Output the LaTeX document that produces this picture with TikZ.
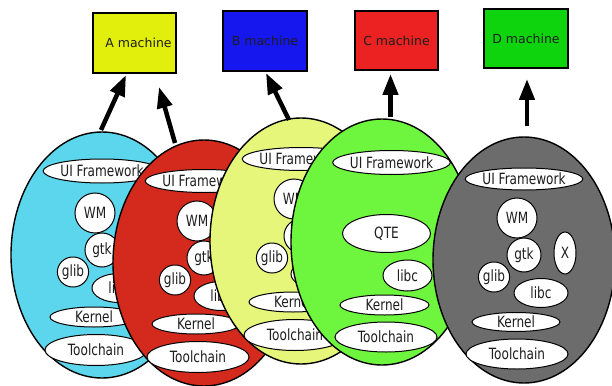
\documentclass[tikz,border=0pt]{standalone}
\usepackage{fontspec}
\setmainfont{DejaVu Sans}
\newfontfamily\condfont[FakeStretch=0.78]{DejaVu Sans}
\usetikzlibrary{arrows.meta,shapes.geometric}
\definecolor{cyanfill}{RGB}{91,214,236}
\definecolor{redfill}{RGB}{212,42,30}
\definecolor{yellowfill}{RGB}{229,246,122}
\definecolor{greenfill}{RGB}{110,245,62}
\definecolor{grayfill}{RGB}{108,108,108}
\definecolor{boxA}{RGB}{226,238,12}
\definecolor{boxB}{RGB}{22,22,238}
\definecolor{boxC}{RGB}{236,34,34}
\definecolor{boxD}{RGB}{14,212,14}
\definecolor{inktext}{RGB}{30,30,30}
\tikzset{
  bigell/.style={ellipse, draw=black, line width=1.4pt, minimum width=182pt, minimum height=246pt, inner sep=0pt},
  item/.style={ellipse, draw=black, fill=white, line width=1pt, inner sep=0pt, text=inktext, font=\condfont\fontsize{15.5}{15.5}\selectfont},
  sz/.style 2 args={minimum width=#1, minimum height=#2},
  machbox/.style={rectangle, draw=black, line width=1.1pt, minimum width=83pt, minimum height=60pt, inner sep=0pt, text=inktext, font=\fontsize{12.5}{12.5}\selectfont},
  arr/.style={line width=4.5pt, -{Triangle[length=21pt,width=15pt]}}
}
\begin{document}
\begin{tikzpicture}[x=1pt,y=-1pt]
\useasboundingbox (0,0) rectangle (612,385);
% machines
\node[machbox, fill=boxA] (Abox) at (134.5,43) {\hspace*{8pt}A machine};
\node[machbox, fill=boxB, minimum width=84pt] (Bbox) at (265,41) {B machine};
\node[machbox, fill=boxC, minimum height=59pt] (Cbox) at (396.5,40.5) {C machine};
\node[machbox, fill=boxD, minimum width=84pt, minimum height=59pt] (Dbox) at (526,38.5) {D machine};
% cyan
\node[bigell, fill=cyanfill] (cE) at (102,255) {};
\node[item, sz={114pt}{24pt}] (cUI) at (102,171) {UI Framework};
\node[item, sz={40pt}{40pt}] (cWM) at (95,213) {WM};
\node[item, sz={34pt}{34pt}] (cgtk) at (102,250) {gtk};
\node[item, sz={30pt}{30pt}] (cglib) at (73,272) {glib};
\node[item, sz={54pt}{29pt}] (clibc) at (119,288) {libc};
\node[item, sz={88pt}{20pt}] (cKer) at (94,317) {Kernel};
\node[item, sz={102pt}{31pt}] (cTool) at (96,350) {Toolchain};
% red
\node[bigell, fill=redfill] (rE) at (204,263) {};
\node[item, sz={114pt}{23pt}] (rUI) at (204,181) {UI Framework};
\node[item, sz={40pt}{40pt}] (rWM) at (197,221) {WM};
\node[item, sz={34pt}{34pt}] (rgtk) at (204,258) {gtk};
\node[item, sz={30pt}{30pt}] (rglib) at (175,280) {glib};
\node[item, sz={54pt}{29pt}] (rlibc) at (221,296) {libc};
\node[item, sz={88pt}{20pt}] (rKer) at (196,324) {Kernel};
\node[item, sz={102pt}{31pt}] (rTool) at (198,357) {Toolchain};
% yellow
\node[bigell, fill=yellowfill] (yE) at (301,241) {};
\node[item, sz={114pt}{23pt}] (yUI) at (301,159) {UI Framework};
\node[item, sz={40pt}{40pt}] (yWM) at (294,199) {WM};
\node[item, sz={34pt}{34pt}] (ygtk) at (301,236) {gtk};
\node[item, sz={30pt}{30pt}] (yglib) at (272,258) {glib};
\node[item, sz={54pt}{29pt}] (ylibc) at (318,274) {libc};
\node[item, sz={88pt}{20pt}] (yKer) at (293,302) {Kernel};
\node[item, sz={102pt}{31pt}] (yTool) at (295,335) {Toolchain};
% green
\node[bigell, fill=greenfill] (gE) at (382,242) {};
\node[item, sz={114pt}{24pt}] (gUI) at (391.5,162.5) {UI Framework};
\node[item, sz={88pt}{38pt}] (gQTE) at (386.5,233.5) {QTE};
\node[item, sz={49pt}{31pt}] (glibc) at (407.5,275.5) {libc};
\node[item, sz={89pt}{20pt}] (gKer) at (384.5,305) {Kernel};
\node[item, sz={102pt}{30pt}] (gTool) at (386,337) {Toolchain};
% gray
\node[bigell, fill=grayfill] (dE) at (524,260) {};
\node[item, sz={114pt}{22pt}] (dUI) at (524,179) {UI Framework};
\node[item, sz={40pt}{40pt}] (dWM) at (517,218) {WM};
\node[item, sz={34pt}{34pt}] (dgtk) at (524,255) {gtk};
\node[item, sz={30pt}{30pt}] (dglib) at (494,277) {glib};
\node[item, sz={54pt}{29pt}] (dlibc) at (541,293) {libc};
\node[item, sz={22pt}{42pt}] (dX) at (565,253) {X};
\node[item, sz={88pt}{19pt}] (dKer) at (516,322) {Kernel};
\node[item, sz={102pt}{30pt}] (dTool) at (517,354) {Toolchain};
% arrow end points
\coordinate (a1s) at (101,130);
\coordinate (a1e) at (126,75);
\coordinate (a2s) at (175,143);
\coordinate (a2e) at (159,87);
\coordinate (bs) at (289,120);
\coordinate (be) at (266,73);
\coordinate (cs) at (390.5,117);
\coordinate (ce) at (390.5,74);
\coordinate (ds) at (527,126);
\coordinate (de) at (527,79);
\draw[arr] (a1s) -- (a1e);
\draw[arr] (a2s) -- (a2e);
\draw[arr] (bs) -- (be);
\draw[arr] (cs) -- (ce);
\draw[arr] (ds) -- (de);
\end{tikzpicture}
\end{document}
